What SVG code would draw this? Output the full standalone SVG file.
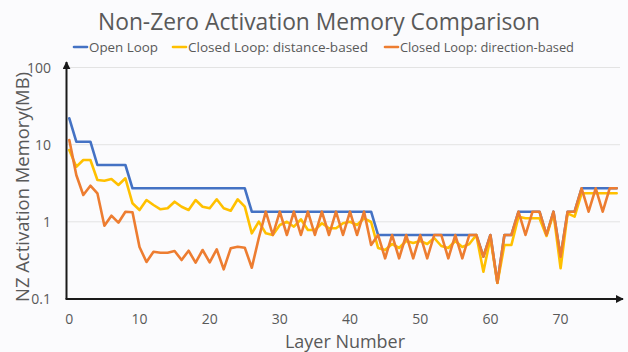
<svg xmlns="http://www.w3.org/2000/svg" width="628" height="352" viewBox="0 0 628 352">
  <defs>
    <style>
      .title { font-family: "Open Sans", "Noto Sans", sans-serif; fill: #595959; }
      .tick { font-family: "Open Sans", "Noto Sans", sans-serif; font-size: 14px; fill: #595959; }
      .legend { font-family: "Open Sans", "Noto Sans", sans-serif; font-size: 13.5px; fill: #595959; }
      .grid { stroke: #e3e3e3; stroke-width: 1; }
      .axis { stroke: #1a1a1a; stroke-width: 2; fill: none; }
      .series { fill: none; stroke-width: 2.6; stroke-linejoin: round; stroke-linecap: round; }
      .open { stroke: #4472c4; }
      .dist { stroke: #ffc000; }
      .dir { stroke: #ed7d31; }
    </style>
    <marker id="arrow" viewBox="0 0 10 10" refX="9" refY="5" markerWidth="4" markerHeight="4" orient="auto">
      <path d="M0,0 L10,5 L0,10 Z" fill="#1a1a1a"/>
    </marker>
  </defs>

  <rect width="628" height="352" fill="#fbfbfd"/>

  <!-- title -->
  <text class="title" x="319" y="30" font-size="24" text-anchor="middle" textLength="442" lengthAdjust="spacingAndGlyphs">Non-Zero Activation Memory Comparison</text>

  <!-- legend -->
  <g id="legend">
    <line x1="74" y1="47" x2="87" y2="47" class="series open" stroke-linecap="butt"/>
    <text class="legend" x="89" y="52" textLength="69" lengthAdjust="spacingAndGlyphs">Open Loop</text>
    <line x1="173" y1="47" x2="186" y2="47" class="series dist" stroke-linecap="butt"/>
    <text class="legend" x="188" y="52" textLength="180" lengthAdjust="spacingAndGlyphs">Closed Loop: distance-based</text>
    <line x1="385" y1="47" x2="398" y2="47" class="series dir" stroke-linecap="butt"/>
    <text class="legend" x="400" y="52" textLength="174" lengthAdjust="spacingAndGlyphs">Closed Loop: direction-based</text>
  </g>

  <!-- gridlines (log scale: 100, 10, 1) -->
  <g id="grid">
    <line class="grid" x1="67" y1="67.5" x2="620" y2="67.5"/>
    <line class="grid" x1="67" y1="144.7" x2="620" y2="144.7"/>
    <line class="grid" x1="67" y1="221.8" x2="620" y2="221.8"/>
  </g>

  <!-- y tick labels -->
  <g id="y-ticks" class="tick" text-anchor="end">
    <text x="51" y="72.5">100</text>
    <text x="51" y="149.7">10</text>
    <text x="51" y="226.8">1</text>
    <text x="51" y="304">0.1</text>
  </g>

  <!-- x tick labels -->
  <g id="x-ticks" class="tick" text-anchor="middle">
    <text x="69.3" y="324">0</text>
    <text x="139.5" y="324">10</text>
    <text x="209.7" y="324">20</text>
    <text x="279.8" y="324">30</text>
    <text x="350" y="324">40</text>
    <text x="420.2" y="324">50</text>
    <text x="490.4" y="324">60</text>
    <text x="560.6" y="324">70</text>
  </g>

  <!-- axis titles -->
  <text class="title" x="345" y="348" font-size="18.5" text-anchor="middle" textLength="120" lengthAdjust="spacingAndGlyphs">Layer Number</text>
  <text class="title" transform="translate(29,187) rotate(-90)" x="0" y="0" font-size="19" text-anchor="middle" textLength="230" lengthAdjust="spacingAndGlyphs">NZ Activation Memory(MB)</text>

  <!-- data series -->
  <g id="series-open-loop">
    <polyline class="series open" points="69.3,118.3 76.3,141.7 90.4,141.7 97.4,165 125.4,165 132.5,188.3 244.8,188.3 251.8,211.7 371.1,211.7 378.1,235 476.3,235 483.4,256.7 490.4,235 497.4,282.7 504.4,235 511.4,235 518.5,211.7 539.5,211.7 546.5,235 553.5,211.7 560.6,256.7 567.6,211.7 574.6,211.7 581.6,188.3 616.7,188.3"/>
  </g>
  <g id="series-distance-based">
    <polyline class="series dist" points="69.3,150 76.3,166.7 83.3,160 90.4,160 97.4,180 104.4,180.7 111.4,179 118.4,185 125.4,178.3 132.5,203.3 139.5,210 146.5,200 153.5,205 160.5,209.3 167.6,208.3 174.6,201.7 181.6,206.7 188.6,210 195.6,200 202.6,206.7 209.7,208.3 216.7,199.3 223.7,208.3 230.7,210.7 237.7,199.3 244.8,206.7 251.8,233.3 258.8,221.7 265.8,233.3 272.8,235 279.8,225 286.9,221.7 293.9,226.7 300.9,219.3 307.9,230 314.9,230 321.9,223.3 329,228.3 336,228.3 343,223.3 350,221.7 357,225 364.1,218.3 371.1,222 378.1,248 385.1,250 392.1,244 399.1,248 406.2,241 413.2,243 420.2,241 427.2,244 434.2,238 441.3,246 448.3,248 455.3,241 462.3,247 469.3,244 476.3,235 483.4,271.7 490.4,238 497.4,283 504.4,245 511.4,245 518.5,216.7 525.5,218.3 532.5,218.3 539.5,218.3 546.5,236 553.5,213.3 560.6,268.3 567.6,213.3 574.6,216.7 581.6,193.3 616.7,193.3"/>
  </g>
  <g id="series-direction-based">
    <polyline class="series dir" points="69.3,140 76.3,175 83.3,195 90.4,185.7 97.4,193.3 104.4,225.7 111.4,215.7 118.4,222.7 125.4,211.7 132.5,212.3 139.5,247 146.5,262 153.5,251.7 160.5,252.7 167.6,252.7 174.6,251 181.6,260 188.6,250.7 195.6,262.7 202.6,250 209.7,262.3 216.7,249.3 223.7,269.3 230.7,248.3 237.7,246.7 244.8,247.7 251.8,267.7 258.8,238 265.8,211.7 272.8,235 279.8,211.7 286.9,235 293.9,211.7 300.9,235 307.9,211.7 314.9,235 321.9,211.7 329,235 336,211.7 343,235 350,211.7 357,235 364.1,211.7 371.1,245 378.1,235 385.1,258.3 392.1,235 399.1,258.3 406.2,235 413.2,258.3 420.2,235 427.2,258.3 434.2,235 441.3,235 448.3,258.3 455.3,235 462.3,258.3 469.3,235 476.3,235 483.4,256.7 490.4,235 497.4,282.7 504.4,235 511.4,235 518.5,211.7 525.5,235 532.5,211.7 539.5,211.7 546.5,235 553.5,211.7 560.6,256.7 567.6,211.7 574.6,211.7 581.6,188.3 588.6,211.7 595.7,188.3 602.7,211.7 609.7,188.3 616.7,188.3"/>
  </g>

  <!-- axes -->
  <g id="axes">
    <line class="axis" x1="66.5" y1="299" x2="66.5" y2="62" marker-end="url(#arrow)"/>
    <line class="axis" x1="65.5" y1="299" x2="623" y2="299" marker-end="url(#arrow)"/>
  </g>
</svg>
